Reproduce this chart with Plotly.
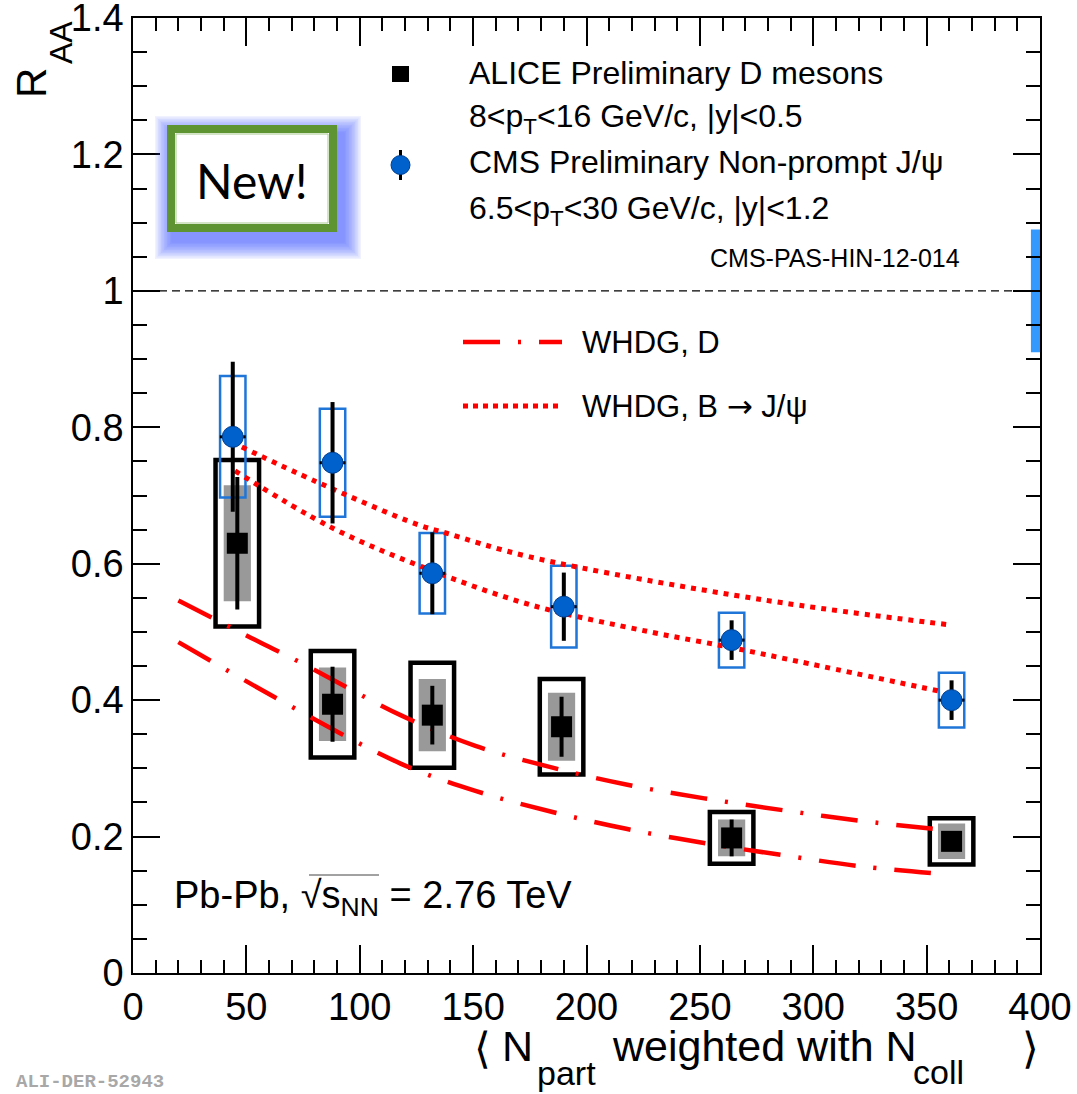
import plotly.graph_objects as go

# ---------------- data ----------------
# ALICE preliminary D mesons, 8 < pT < 16 GeV/c, |y| < 0.5
npart_D = [46, 88, 132, 189, 264, 361]
raa_D = [0.630, 0.394, 0.378, 0.361, 0.198, 0.193]
stat_D = [0.097, 0.055, 0.043, 0.044, 0.027, 0.012]
syst_uncorr_D = [0.085, 0.054, 0.053, 0.050, 0.027, 0.026]   # filled grey boxes
syst_corr_D = [0.122, 0.078, 0.077, 0.070, 0.038, 0.034]     # open black boxes

# CMS preliminary non-prompt J/psi, 6.5 < pT < 30 GeV/c, |y| < 1.2
npart_B = [44, 88, 132, 190, 264, 361]
raa_B = [0.786, 0.748, 0.586, 0.537, 0.488, 0.400]
stat_B = [0.110, 0.089, 0.060, 0.050, 0.029, 0.029]
xerr_B = [5.7, 5.7, 5.7, 5.7, 5.7, 5.7]
syst_B = [0.089, 0.079, 0.059, 0.060, 0.040, 0.040]
norm_unc_B = 0.09

# WHDG model bands
whdg_D_hi_x = [20, 40, 57, 74, 118, 151, 185, 218, 252, 288, 321, 357]
whdg_D_hi_y = [0.546, 0.512, 0.483, 0.455, 0.378, 0.333, 0.301, 0.276, 0.256, 0.238, 0.223, 0.210]
whdg_D_lo_x = [20, 74, 118, 151, 185, 218, 253, 288, 322, 357]
whdg_D_lo_y = [0.485, 0.383, 0.307, 0.267, 0.236, 0.211, 0.190, 0.172, 0.156, 0.145]
whdg_B_hi_x = [48, 81, 125, 138, 175, 278, 361]
whdg_B_hi_y = [0.771, 0.720, 0.658, 0.645, 0.610, 0.547, 0.510]
whdg_B_lo_x = [45, 87, 127, 175, 228, 264, 293, 356]
whdg_B_lo_y = [0.736, 0.654, 0.596, 0.540, 0.500, 0.477, 0.457, 0.413]

x_ticks = [0, 50, 100, 150, 200, 250, 300, 350, 400]
y_ticks = [0, 0.2, 0.4, 0.6, 0.8, 1.0, 1.2, 1.4]
y_tick_text = ["0", "0.2", "0.4", "0.6", "0.8", "1", "1.2", "1.4"]

# ---------------- geometry / style ----------------
W, H = 1077, 1094
ML, MR, MT, MB = 133, 37, 18, 121
PW, PH = W - ML - MR, H - MT - MB
FONT = "Liberation Sans, Arial, Helvetica, sans-serif"

BOX_D_HALF = 9.6     # half width of the open correlated-syst boxes (x units)
GREY_D_HALF = 6.0
BOX_B_HALF = 5.6
NORM_X = (396.0, 400.0)

RED = "#ff0000"
BLUE_FILL = "#0060cc"
BLUE_BOX = "#1f75d8"
NORM_BLUE = "#3399ff"


def px(xp):
    return (xp - ML) / PW


def py(yp):
    return (H - MB - yp) / PH


fig = go.Figure()

# model curves
d_dash = "37px,18px,3px,18px"
b_dot = "5px,6px"
for xs, ys in [(whdg_D_hi_x, whdg_D_hi_y), (whdg_D_lo_x, whdg_D_lo_y)]:
    fig.add_trace(go.Scatter(x=xs, y=ys, mode="lines",
                             line=dict(color=RED, width=4.5, dash=d_dash, shape="spline"),
                             hoverinfo="skip"))
for xs, ys in [(whdg_B_hi_x, whdg_B_hi_y), (whdg_B_lo_x, whdg_B_lo_y)]:
    fig.add_trace(go.Scatter(x=xs, y=ys, mode="lines",
                             line=dict(color=RED, width=5, dash=b_dot, shape="spline"),
                             hoverinfo="skip"))

# systematic boxes
shapes = []
for x, y, su, sc in zip(npart_D, raa_D, syst_uncorr_D, syst_corr_D):
    shapes.append(dict(type="rect", xref="x", yref="y", layer="below",
                       x0=x - GREY_D_HALF, x1=x + GREY_D_HALF, y0=y - su, y1=y + su,
                       fillcolor="#999999", line=dict(width=0)))
    shapes.append(dict(type="rect", xref="x", yref="y", layer="below",
                       x0=x - BOX_D_HALF, x1=x + BOX_D_HALF, y0=y - sc, y1=y + sc,
                       fillcolor="rgba(0,0,0,0)", line=dict(color="black", width=4.5)))
for x, y, s in zip(npart_B, raa_B, syst_B):
    shapes.append(dict(type="rect", xref="x", yref="y", layer="below",
                       x0=x - BOX_B_HALF, x1=x + BOX_B_HALF, y0=y - s, y1=y + s,
                       fillcolor="rgba(0,0,0,0)", line=dict(color=BLUE_BOX, width=2.5)))

# global normalisation uncertainty and unity line
shapes.append(dict(type="rect", xref="x", yref="y", layer="below",
                   x0=NORM_X[0], x1=NORM_X[1], y0=1 - norm_unc_B, y1=1 + norm_unc_B,
                   fillcolor=NORM_BLUE, line=dict(width=0)))
shapes.append(dict(type="line", xref="x", yref="y", layer="below",
                   x0=x_ticks[0], x1=x_ticks[-1], y0=1, y1=1,
                   line=dict(color="black", width=1.3, dash="8px,5px")))

# data points
fig.add_trace(go.Scatter(x=npart_D, y=raa_D, mode="markers",
                         marker=dict(symbol="square", size=21, color="black"),
                         error_y=dict(type="data", array=stat_D, color="black",
                                      thickness=4, width=0),
                         hoverinfo="skip"))
fig.add_trace(go.Scatter(x=npart_B, y=raa_B, mode="markers",
                         marker=dict(symbol="circle", size=21, color=BLUE_FILL,
                                     line=dict(color="#003f8f", width=1)),
                         error_y=dict(type="data", array=stat_B, color="black",
                                      thickness=4, width=0),
                         error_x=dict(type="data", array=xerr_B, color="black",
                                      thickness=3, width=0),
                         hoverinfo="skip"))

# legend symbols (paper coordinates)
shapes.append(dict(type="rect", xref="paper", yref="paper",
                   x0=px(392), x1=px(409), y0=py(82), y1=py(66),
                   fillcolor="black", line=dict(width=0)))
shapes.append(dict(type="line", xref="paper", yref="paper",
                   x0=px(400.5), x1=px(400.5), y0=py(150), y1=py(180),
                   line=dict(color="black", width=3)))
shapes.append(dict(type="circle", xref="paper", yref="paper",
                   x0=px(391), x1=px(410), y0=py(174.5), y1=py(155.5),
                   fillcolor=BLUE_FILL, line=dict(color="#003f8f", width=1)))
shapes.append(dict(type="line", xref="paper", yref="paper",
                   x0=px(463), x1=px(562), y0=py(342), y1=py(342),
                   line=dict(color=RED, width=4.5, dash=d_dash)))
shapes.append(dict(type="line", xref="paper", yref="paper",
                   x0=px(463), x1=px(560), y0=py(406), y1=py(406),
                   line=dict(color=RED, width=5, dash="5px,5px")))

# overline of the square root in the collision-energy label
shapes.append(dict(type="line", xref="paper", yref="paper",
                   x0=px(309), x1=px(379), y0=py(875), y1=py(875),
                   line=dict(color="#444444", width=1)))

# "New!" badge with a soft blue glow
bx0, bx1, by0, by1 = 167, 337, 125, 232
for k in range(12, 0, -1):
    g = 1.5 * k
    shapes.append(dict(type="rect", xref="paper", yref="paper",
                       x0=px(bx0 + 6 - g), x1=px(bx1 + 6 + g),
                       y0=py(by1 + 9 + g), y1=py(by0 + 9 - g),
                       fillcolor="rgba(60,95,255,0.08)", line=dict(width=0)))
shapes.append(dict(type="rect", xref="paper", yref="paper",
                   x0=px(bx0 + 4), x1=px(bx1 - 4), y0=py(by1 - 4), y1=py(by0 + 4),
                   fillcolor="white", line=dict(color="#5e9432", width=8)))
shapes.append(dict(type="rect", xref="paper", yref="paper",
                   x0=px(bx0 + 9), x1=px(bx1 - 9), y0=py(by1 - 9), y1=py(by0 + 9),
                   fillcolor="rgba(0,0,0,0)", line=dict(color="#a9c98f", width=1)))

annotations = []


def label(text, xp, yp, size, xanchor="left", yanchor="middle", color="black",
          family=FONT, angle=0):
    annotations.append(dict(text=text, x=px(xp), y=py(yp), xref="paper", yref="paper",
                            showarrow=False, xanchor=xanchor, yanchor=yanchor,
                            textangle=angle,
                            font=dict(size=size, color=color, family=family)))


label("New!", 252, 180, 48, xanchor="center", family="Lato, Open Sans, sans-serif")

# legend text
label("ALICE Preliminary D mesons", 467, 73, 32)
label("8&lt;p<sub>T</sub>&lt;16 GeV/c, |y|&lt;0.5", 467, 118, 32)
label("CMS Preliminary Non-prompt J/ψ", 467, 162, 32)
label("6.5&lt;p<sub>T</sub>&lt;30 GeV/c, |y|&lt;1.2", 467, 210, 32)
label("CMS-PAS-HIN-12-014", 962, 258, 25, xanchor="right")
label("WHDG, D", 580, 342, 31)
label("WHDG, B <span style='font-family:DejaVu Sans'>→</span> J/ψ", 580, 406, 31)

label("Pb-Pb, √s<sub>NN</sub> = 2.76 TeV", 172, 898, 38)

# axis titles
label("R", 31, 83, 42, xanchor="center", angle=-90)
label("AA", 61, 43, 32, xanchor="center", angle=-90)
label("⟨", 472, 1048, 43)
label("N", 500, 1046, 43)
label("part", 535, 1073, 34)
label("weighted with N", 610, 1046, 43)
label("coll", 911, 1072, 34)
label("⟩", 1020, 1048, 43)

label("<b>ALI-DER-52943</b>", 14, 1082, 19, color="#a8a8a8",
      family="Liberation Mono, DejaVu Sans Mono, monospace")

axis_common = dict(showgrid=False, zeroline=False, showline=True, linecolor="black",
                   linewidth=1.5, mirror="allticks", ticks="inside", tickwidth=1.5,
                   tickcolor="black", automargin=False, ticklabeloverflow="allow",
                   tickfont=dict(size=38, family=FONT, color="black"))

fig.update_layout(
    width=W, height=H,
    margin=dict(l=ML, r=MR, t=MT, b=MB, pad=0, autoexpand=False),
    paper_bgcolor="white", plot_bgcolor="white",
    showlegend=False,
    xaxis=dict(range=[x_ticks[0], x_ticks[-1]], tickvals=x_ticks, ticklen=28,
               minor=dict(dtick=10, ticks="inside", ticklen=13, tickwidth=1.5,
                          tickcolor="black", showgrid=False),
               **axis_common),
    yaxis=dict(range=[y_ticks[0], y_ticks[-1]], tickvals=y_ticks, ticklen=27,
               ticktext=y_tick_text,
               minor=dict(dtick=0.05, ticks="inside", ticklen=14, tickwidth=1.5,
                          tickcolor="black", showgrid=False),
               **axis_common),
    shapes=shapes,
    annotations=annotations,
)

fig.write_html("out.html")
